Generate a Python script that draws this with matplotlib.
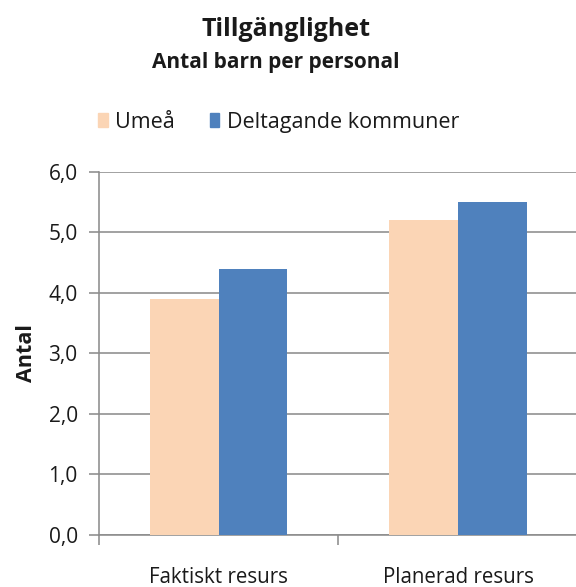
import numpy as np
import matplotlib.pyplot as plt
from matplotlib.patches import Patch

plt.rcParams['font.family'] = ['Open Sans', 'DejaVu Sans']

categories = ['Faktiskt resurs', 'Planerad resurs']
umea = [3.9, 5.2]
deltagande = [4.4, 5.5]
series_names = ['Umeå', 'Deltagande kommuner']
y_ticks = [0, 1, 2, 3, 4, 5, 6]
y_ticklabels = ['0,0', '1,0', '2,0', '3,0', '4,0', '5,0', '6,0']

c_umea = '#FBD5B5'
c_delt = '#4F81BD'
grey = '#8C8C8C'
txt = '#1a1a1a'

fig = plt.figure(figsize=(5.76, 5.87), dpi=100)
ax = fig.add_axes([0.1715, 0.0886, 0.832, 0.6184])

x = np.arange(len(categories))
w = 0.287
ax.bar(x - w / 2, umea, w, color=c_umea, zorder=3)
ax.bar(x + w / 2, deltagande, w, color=c_delt, zorder=3)

ax.set_xlim(-0.5, len(categories) - 0.5)
ax.set_ylim(0, 6)
ax.set_yticks(y_ticks)
ax.set_yticklabels(y_ticklabels, fontsize=15, color=txt)
ax.yaxis.grid(True, color=grey, lw=1.15, zorder=0)
ax.tick_params(axis='y', length=7.2, width=1.15, color=grey, pad=8)

ax.set_xticks(x)
ax.set_xticklabels(categories, fontsize=14.8, color=txt)
ax.tick_params(axis='x', which='major', length=0, pad=23)
ax.set_xticks(np.arange(-0.5, len(categories), 1.0), minor=True)
ax.tick_params(axis='x', which='minor', length=7, width=1.15, color=grey)

for s in ['top', 'right']:
    ax.spines[s].set_visible(False)
for s in ['left', 'bottom']:
    ax.spines[s].set_color(grey)
    ax.spines[s].set_linewidth(1.15)

ax.set_ylabel('Antal', fontsize=15.5, fontweight='bold', labelpad=8, color=txt)

fig.text(0.496, 0.949, 'Tillgänglighet', ha='center', va='center',
         fontsize=18, fontweight='bold', color=txt)
fig.text(0.479, 0.893, 'Antal barn per personal', ha='center', va='center',
         fontsize=15, fontweight='bold', color=txt)

handles = [Patch(color=c_umea), Patch(color=c_delt)]
fig.legend(handles, series_names, loc='center', bbox_to_anchor=(0.484, 0.792),
           ncol=2, frameon=False, fontsize=15.5, handlelength=0.45,
           handleheight=0.6, handletextpad=0.35, columnspacing=1.6,
           labelcolor=txt)

fig.savefig('out.png', dpi=100)
